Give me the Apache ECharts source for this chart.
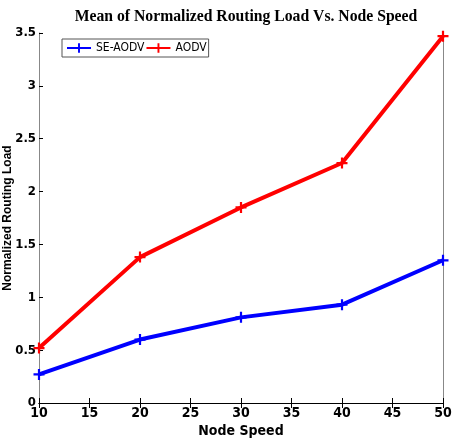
<!DOCTYPE html>
<html><head><meta charset="utf-8">
<script src="https://cdn.jsdelivr.net/npm/echarts@6/dist/echarts.min.js"></script>
<style>html,body{margin:0;padding:0;background:#fff}#c{width:455px;height:442px}</style>
</head><body><div id="c"></div>
<script>
const nodeSpeed = [10, 20, 30, 40, 50];
const seAodv = [0.27, 0.60, 0.81, 0.93, 1.35];
const aodv = [0.52, 1.38, 1.85, 2.27, 3.47];
const xTicks = [10, 15, 20, 25, 30, 35, 40, 45, 50];
const yTicks = [0, 0.5, 1, 1.5, 2, 2.5, 3, 3.5];

const plus = 'path://M4,0 L6,0 L6,4 L10,4 L10,6 L6,6 L6,10 L4,10 L4,6 L0,6 L0,4 L4,4 Z';
const chart = echarts.init(document.getElementById('c'));
const narrow = '"Liberation Sans Narrow", "DejaVu Sans Condensed", sans-serif';
const axisFont = {fontFamily: narrow, fontWeight: 'bold', color: '#000'};
chart.setOption({
  animation: false,
  title: {text: 'Mean of Normalized Routing Load Vs. Node Speed', left: 241, top: 4, textAlign: 'center',
    textStyle: {fontFamily: 'Liberation Serif', fontWeight: 'bold', fontSize: 15.7, color: '#000'}},
  legend: {left: 62, top: 39, itemGap: 1, itemWidth: 24, itemHeight: 12, padding: [3, 2, 3, 4],
    borderColor: '#555', borderWidth: 1, backgroundColor: '#fff',
    textStyle: {fontFamily: narrow, fontSize: 12, color: '#000'},
    data: ['SE-AODV', 'AODV']},
  grid: {left: 39, right: 12, top: 33, bottom: 39, outerBoundsMode: 'none', containLabel: false},
  xAxis: [{type: 'value', min: 10, max: 50, interval: 5,
    name: 'Node Speed', nameLocation: 'middle', nameGap: 21, nameMoveOverlap: false,
    nameTextStyle: Object.assign({fontSize: 14}, axisFont),
    axisLine: {lineStyle: {color: '#000', width: 1}},
    axisTick: {inside: true, length: 5, lineStyle: {color: '#000'}},
    axisLabel: Object.assign({fontSize: 14, margin: 3}, axisFont),
    splitLine: {show: false}},
   {type: 'value', min: 10, max: 50, interval: 5, position: 'top',
    axisLine: {lineStyle: {color: '#000', width: 1}},
    axisTick: {inside: true, length: 5, lineStyle: {color: '#000'}},
    axisLabel: {show: false}, splitLine: {show: false}}],
  yAxis: [{type: 'value', min: 0, max: 3.5, interval: 0.5,
    name: 'Normalized Routing Load', nameLocation: 'middle', nameGap: 25, nameMoveOverlap: false,
    nameTextStyle: {fontFamily: 'Liberation Sans', fontWeight: 'bold', fontSize: 12, color: '#000'},
    axisLine: {show: true, lineStyle: {color: '#888', width: 1}},
    axisTick: {show: true, inside: true, length: 4, lineStyle: {color: '#000'}},
    axisLabel: Object.assign({fontSize: 13, margin: 3, formatter: v => String(v)}, axisFont),
    splitLine: {show: false}},
   {type: 'value', min: 0, max: 3.5, interval: 0.5, position: 'right',
    axisLine: {show: true, lineStyle: {color: '#888', width: 1}},
    axisTick: {show: false}, axisLabel: {show: false}, splitLine: {show: false}}],
  series: [
    {name: 'SE-AODV', type: 'line', data: nodeSpeed.map((x, i) => [x, seAodv[i]]),
     symbol: plus, symbolSize: 11, color: '#0000ff',
     lineStyle: {width: 4, color: '#0000ff'}, itemStyle: {color: '#0000ff'}},
    {name: 'AODV', type: 'line', data: nodeSpeed.map((x, i) => [x, aodv[i]]),
     symbol: plus, symbolSize: 11, color: '#ff0000',
     lineStyle: {width: 4, color: '#ff0000'}, itemStyle: {color: '#ff0000'}}
  ]
});
</script></body></html>
